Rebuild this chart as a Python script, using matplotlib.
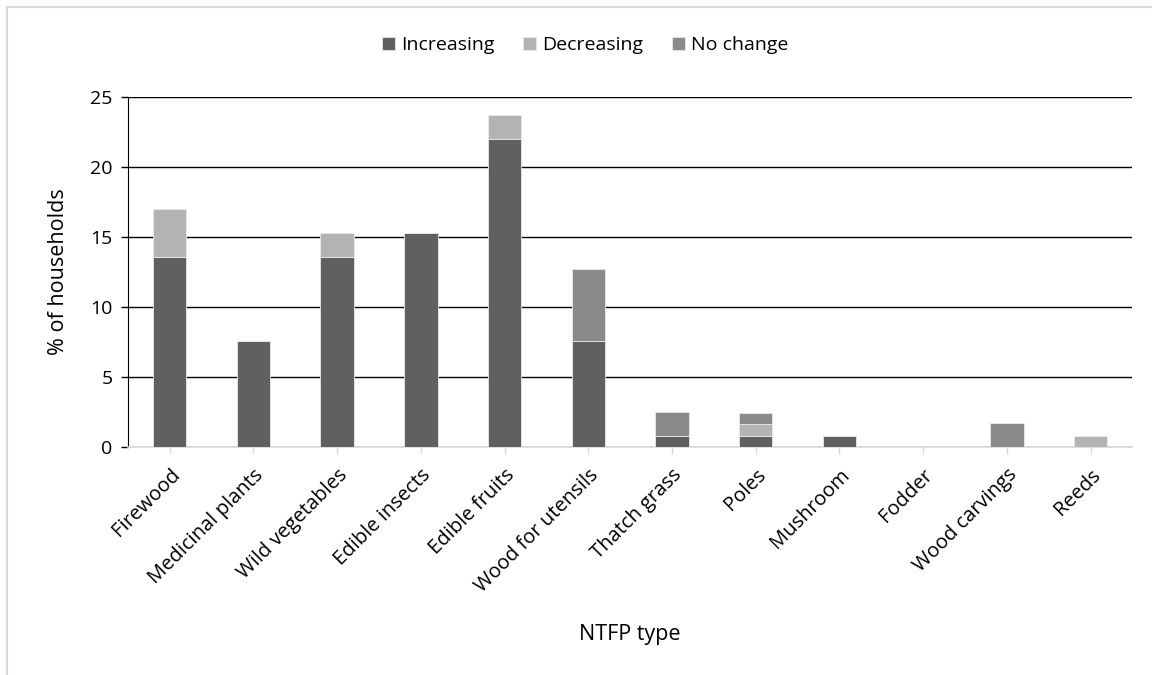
import numpy as np
import matplotlib.pyplot as plt
from matplotlib.patches import Rectangle

plt.rcParams['font.family'] = ['Open Sans', 'DejaVu Sans']

categories = ["Firewood", "Medicinal plants", "Wild vegetables", "Edible insects",
              "Edible fruits", "Wood for utensils", "Thatch grass", "Poles",
              "Mushroom", "Fodder", "Wood carvings", "Reeds"]
increasing = [13.6, 7.6, 13.6, 15.3, 22.0, 7.6, 0.8, 0.8, 0.8, 0, 0, 0]
decreasing = [3.4, 0, 1.7, 0, 1.7, 0, 0, 0.8, 0, 0, 0, 0.8]
no_change = [0, 0, 0, 0, 0, 5.1, 1.7, 0.8, 0, 0, 1.7, 0]

colors = {"Increasing": "#606060", "Decreasing": "#b3b3b3", "No change": "#8a8a8a"}

fig = plt.figure(figsize=(11.52, 6.75), dpi=100)
ax = fig.add_axes([0.111, 0.338, 0.872, 0.518])

x = np.arange(len(categories))
w = 0.4
inc = np.array(increasing)
dec = np.array(decreasing)
noc = np.array(no_change)
ax.bar(x, inc, w, color=colors["Increasing"], edgecolor="#e8e8e8", linewidth=0.6,
       label="Increasing", zorder=3)
ax.bar(x, dec, w, bottom=inc, color=colors["Decreasing"], edgecolor="#e8e8e8",
       linewidth=0.6, label="Decreasing", zorder=3)
ax.bar(x, noc, w, bottom=inc + dec, color=colors["No change"], edgecolor="#e8e8e8",
       linewidth=0.6, label="No change", zorder=3)

ax.set_xlim(-0.5, len(categories) - 0.5)
ax.set_ylim(0, 25)
ax.set_yticks(range(0, 26, 5))
ax.yaxis.grid(True, color="black", linewidth=1.0, zorder=0)
ax.set_axisbelow(True)

ax.set_xticks(x)
ax.set_xticklabels(categories, rotation=45, ha="right", rotation_mode="anchor", fontsize=14.5)
ax.tick_params(axis="y", labelsize=14, length=5, width=1, color="black", direction="out", pad=6)
ax.tick_params(axis="x", length=5, width=1, color="#d9d9d9", pad=8)

for s in ["top", "right"]:
    ax.spines[s].set_visible(False)
ax.spines["left"].set_color("black")
ax.spines["bottom"].set_color("#d9d9d9")
ax.spines["bottom"].set_linewidth(1.2)

ax.set_ylabel("% of households", fontsize=15.5, va="center")
ax.yaxis.set_label_coords(-0.069, 0.5)
ax.set_xlabel("NTFP type", fontsize=15.5, va="center")
ax.xaxis.set_label_coords(0.5, -0.537)

fig.legend(loc="center", bbox_to_anchor=(0.508, 0.933), ncol=3, frameon=False,
           fontsize=14, handlelength=0.65, handleheight=0.65, handletextpad=0.3,
           columnspacing=1.5)

fig.patches.append(Rectangle((0.0065, -0.1), 1.2, 1.0895, transform=fig.transFigure,
                             fill=False, edgecolor="#d9d9d9", linewidth=1.5))

fig.savefig("out.png", dpi=100)
